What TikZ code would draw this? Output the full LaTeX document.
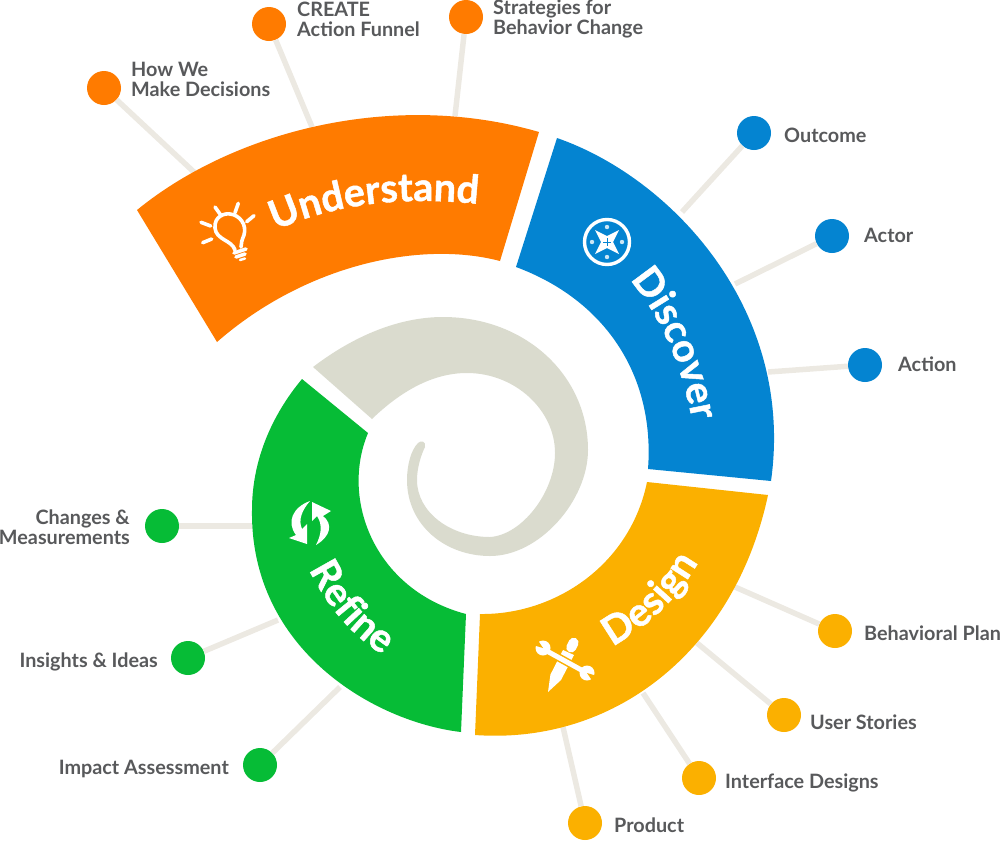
\documentclass[tikz,border=0pt]{standalone}
\usepackage{fontspec}
\setmainfont{Lato}
\newfontfamily\headfamily{Lato}[BoldFeatures={FakeBold=1.2}]
\usepackage{tikz}
\usetikzlibrary{decorations.text}

\definecolor{understandcol}{HTML}{FF7B00}
\definecolor{discovercol}{HTML}{0484D1}
\definecolor{designcol}{HTML}{FBB000}
\definecolor{refinecol}{HTML}{06BC36}
\definecolor{spiralcol}{HTML}{DADBCE}
\definecolor{leadercol}{HTML}{ECE9E2}
\definecolor{labelcol}{HTML}{58595B}

\newcommand{\headfont}{\color{white}\headfamily\bfseries\fontsize{39.5}{39.5}\selectfont}

\tikzset{
	leader/.style={leadercol, line width=5.5},
	dot/.style={circle, minimum size=34, inner sep=0, fill=#1},
	label/.style={inner sep=0, text=labelcol, font=\bfseries\fontsize{19.8}{20}\selectfont},
	headtext/.style={decorate, decoration={text along path, text align=center, text={|\headfont|#1}}},
	icon/.style={white, line width=3.6, line cap=round}
}

\begin{document}
\begin{tikzpicture}[x=1pt, y=-1pt]
	\useasboundingbox (0,0) rectangle (1000,841);

	%% dots and leaders
	\foreach \n/\px/\py/\qx/\qy in {how/104/88/195/173, create/269/24/312/127, strategies/466/17/455/116} {
		\coordinate (e\n) at (\qx,\qy);
		\node[dot=understandcol] (d\n) at (\px,\py) {};
		\draw[leader] (d\n) -- (e\n);
	}
	\foreach \n/\px/\py/\qx/\qy in {outcome/754/133/682/212, actor/832/236/735/284, action/865/365/768/372} {
		\coordinate (e\n) at (\qx,\qy);
		\node[dot=discovercol] (d\n) at (\px,\py) {};
		\draw[leader] (d\n) -- (e\n);
	}
	\foreach \n/\px/\py/\qx/\qy in {plan/835/631/735/587, stories/784/715/697/643, interface/699/778/643/693, product/585/823/563/727} {
		\coordinate (e\n) at (\qx,\qy);
		\node[dot=designcol] (d\n) at (\px,\py) {};
		\draw[leader] (d\n) -- (e\n);
	}
	\foreach \n/\px/\py/\qx/\qy in {changes/162/526/252/526, insights/188/658/278/620, impact/260/765/340/687} {
		\coordinate (e\n) at (\qx,\qy);
		\node[dot=refinecol] (d\n) at (\px,\py) {};
		\draw[leader] (d\n) -- (e\n);
	}

	%% labels
	\node[label, anchor=west, align=left] (lhow) at (131,79) {How We\\Make Decisions};
	\node[label, anchor=west, align=left] (lcreate) at (297,19) {CREATE\\Action Funnel};
	\node[label, anchor=west, align=left] (lstrategies) at (493,18.5) {Strategies for\\Behavior Change};
	\node[label, anchor=west] (loutcome) at (784,135) {Outcome};
	\node[label, anchor=west] (lactor) at (864,235) {Actor};
	\node[label, anchor=west] (laction) at (898,364) {Action};
	\node[label, anchor=west] (lplan) at (864,633) {Behavioral Plan};
	\node[label, anchor=west] (lstories) at (810,722) {User Stories};
	\node[label, anchor=west] (linterface) at (725,783) {Interface Designs};
	\node[label, anchor=west] (lproduct) at (614,825) {Product};
	\node[label, anchor=east, align=right] (lchanges) at (130,527) {Changes \&\\Measurements};
	\node[label, anchor=east] (linsights) at (158,662) {Insights \& Ideas};
	\node[label, anchor=east] (limpact) at (229,769) {Impact Assessment};

	%% segments
	\fill[understandcol] (137,210) .. controls (235,130) and (395,90) .. (539,132)
		-- (500,261) .. controls (420,240) and (305,265) .. (217,342) -- cycle;
	\fill[discovercol] (557,138) .. controls (672,178) and (795,310) .. (771,481)
		-- (648,469) .. controls (655,375) and (605,300) .. (516,267) -- cycle;
	\fill[designcol] (768,495) .. controls (735,650) and (615,745) .. (475,735)
		-- (480,614) .. controls (555,615) and (630,565) .. (647,482) -- cycle;
	\fill[refinecol] (461,732) .. controls (375,722) and (250,650) .. (252,510)
		.. controls (252,460) and (272,415) .. (302,379)
		-- (368,433) .. controls (340,500) and (375,590) .. (466,614) -- cycle;
	\fill[spiralcol] (313,367) .. controls (355,335) and (400,317) .. (443,317)
		.. controls (525,317) and (588,375) .. (588,450)
		.. controls (588,500) and (540,556) .. (490,556)
		.. controls (445,556) and (407,525) .. (407,480)
		.. controls (407,465) and (411,450) .. (418,443)
		.. controls (421,440) and (426,441) .. (425,447)
		.. controls (421,455) and (417,468) .. (417,480)
		.. controls (417,512) and (450,537) .. (490,537)
		.. controls (522,535) and (555,492) .. (555,453)
		.. controls (555,410) and (515,373) .. (467,373)
		.. controls (432,373) and (400,392) .. (372,419) -- cycle;

	%% headings
	\path[headtext=Understand] (267,234) .. controls (333,203) and (403,195) .. (487,205);
	\path[headtext=Discover] (630,280) .. controls (660,315) and (682,365) .. (692,420);
	\path[headtext=Design] (600,653) .. controls (650,628) and (682,595) .. (705,550);
	\path[headtext=Refine] (307,566) .. controls (327,605) and (347,632) .. (386,657);

	%% bulb
	\draw[icon] (235,250) .. controls (232,240) and (216,240) .. (215,228) .. controls (214,216) and (225,213) .. (230,214)
		.. controls (240,215) and (247,225) .. (244,235) .. controls (242,240) and (241,243) .. (241,247);
	\draw[icon] (215,207) -- (220.7,215);
	\draw[icon] (238.3,203.3) -- (235,212.7);
	\draw[icon] (254,215.7) -- (246.7,221.7);
	\draw[icon] (201,222.3) -- (210.7,226);
	\draw[icon] (202.7,242.7) -- (211.7,239);
	\draw[icon] (234,253) -- (246,249);
	\draw[icon] (236,257) -- (245,254);
	\draw[icon, line width=2.5] (240,260) -- (245,258.5);

	%% compass
	\draw[white, line width=3.4] (607,242) circle (22.5);
	\fill[white] (595,230) -- (607,236) -- (619,230) -- (613,242) -- (619,254) -- (607,248) -- (595,254) -- (601,242) -- cycle;
	\foreach \dx/\dy in {0/-15, 0/15, -15/0, 15/0} {
		\fill[white, opacity=0.8] (607+\dx,242+\dy) circle (2.2);
	}
	\draw[discovercol, line width=0.8] (603,242) -- (611,242) (607,238) -- (607,246);

	%% tools
	\draw[white, line width=10, line cap=round] (573.6,642.7) -- (571.2,647.5);
	\fill[white] (574,655) -- (563,650) -- (550.4,674.6) -- (548,692) -- (561,680) -- cycle;
	\draw[designcol, line width=8] (545,650) -- (585,672);
	\draw[white, line width=5] (545,650) -- (585,672);
	\fill[white] (543,648) circle (7.5) (587,673) circle (7.5);
	\fill[designcol] (533,645) -- (543,648) -- (537,639) -- cycle (597,676) -- (587,673) -- (593,682) -- cycle;

	%% arrows
	\fill[white] (310,501) .. controls (293,507) and (286,522) .. (296,535) -- (289,538) -- (307,544) -- (307,524) -- (302,529) .. controls (298,520) and (302,510) .. cycle;
	\fill[white] (316,545) .. controls (331,536) and (333,524) .. (323,516) -- (331,511) -- (312,502) -- (312,521) -- (317,516) .. controls (323,525) and (321,535) .. cycle;
\end{tikzpicture}
\end{document}
